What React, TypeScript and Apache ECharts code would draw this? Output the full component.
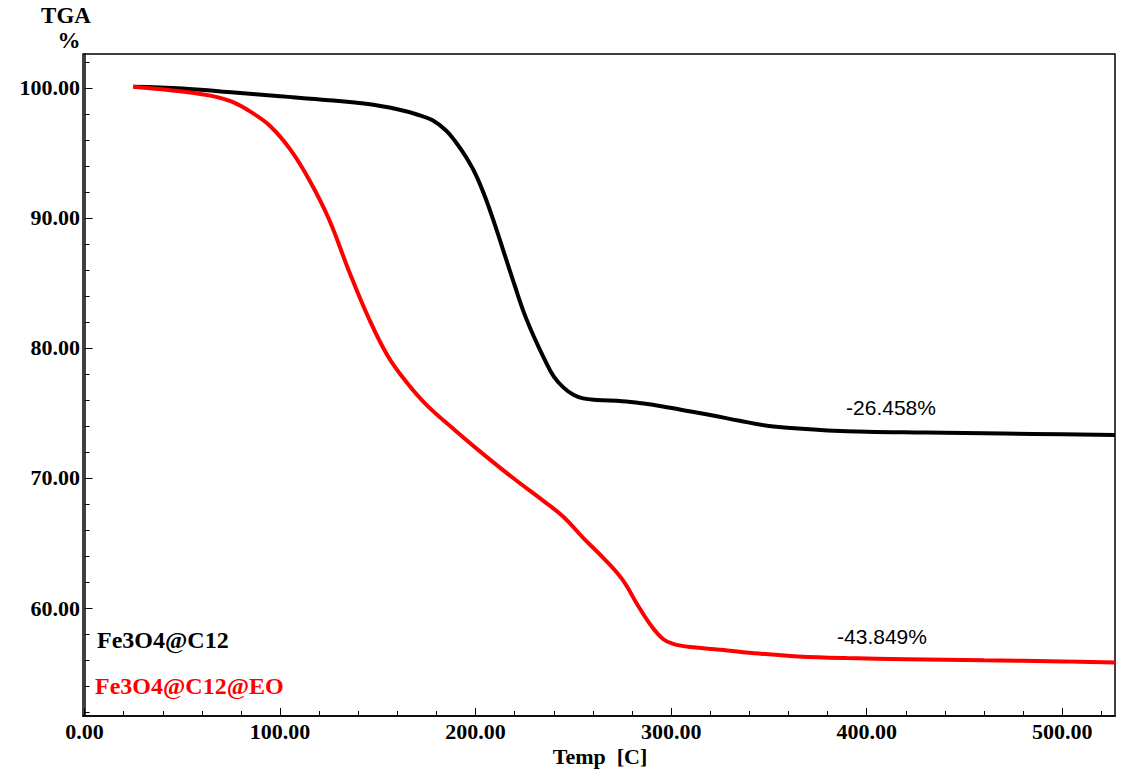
import React, { useEffect, useRef } from "react";
import * as echarts from "echarts";

const c12Temp = [25, 50, 75, 100, 125, 145, 160, 170, 178, 185, 190, 195, 200, 205, 210, 215, 220, 225, 230, 235, 240, 245, 250, 255, 262, 275, 285, 295, 305, 320, 335, 350, 365, 380, 400, 430, 470, 500, 527];
const c12Weight = [100.08, 99.95, 99.65, 99.35, 99.05, 98.75, 98.35, 97.95, 97.5, 96.7, 95.8, 94.7, 93.35, 91.55, 89.4, 87.1, 84.8, 82.6, 80.8, 79.2, 77.8, 76.95, 76.4, 76.12, 76.0, 75.9, 75.74, 75.52, 75.25, 74.85, 74.4, 74.0, 73.8, 73.66, 73.56, 73.5, 73.42, 73.36, 73.3];

const eoTemp = [25, 35, 45, 55, 65, 75, 85, 95, 105, 115, 125, 135, 145, 155, 165, 175, 190, 205, 220, 235, 245, 255, 265, 275, 283, 290, 296, 301, 310, 325, 345, 365, 390, 420, 460, 500, 527];
const eoWeight = [100.08, 99.95, 99.8, 99.62, 99.38, 98.95, 98.15, 97.05, 95.3, 92.9, 89.9, 86.0, 82.4, 79.4, 77.3, 75.6, 73.6, 71.7, 69.9, 68.2, 67.0, 65.4, 63.9, 62.2, 60.2, 58.6, 57.6, 57.25, 57.0, 56.8, 56.5, 56.28, 56.15, 56.07, 55.98, 55.9, 55.82];

const xMajor = [0, 100, 200, 300, 400, 500];
const xMinor = [20, 40, 60, 80, 120, 140, 160, 180, 220, 240, 260, 280, 320, 340, 360, 380, 420, 440, 460, 480, 520];
const yMajor = [60, 70, 80, 90, 100];
const yMinor = [52, 54, 56, 58, 62, 64, 66, 68, 72, 74, 76, 78, 82, 84, 86, 88, 92, 94, 96, 98, 102];

const seriesNames = ["Fe3O4@C12", "Fe3O4@C12@EO"];
const lossLabels = ["-26.458%", "-43.849%"];

const X_MIN = -0.8;
const X_MAX = 527;
const Y_MIN = 51.7;
const Y_MAX = 102.6;

const SERIF = '"Liberation Serif", "Times New Roman", serif';
const SANS = '"Liberation Sans", Arial, sans-serif';

export default function App() {
  const ref = useRef<HTMLDivElement>(null);
  useEffect(() => {
    if (!ref.current) return;
    const chart = echarts.init(ref.current, null, { renderer: "svg" });
    const pairs = (t: number[], w: number[]) => t.map((v, i) => [v, w[i]]);
    const labelStyle = { color: "#000", fontFamily: SERIF, fontWeight: "bold" as const, fontSize: 22 };
    chart.setOption({
      animation: false,
      backgroundColor: "#fff",
      grid: { left: 83, right: 9, top: 54, bottom: 56, show: true, borderColor: "#000", borderWidth: 1.5, backgroundColor: "transparent" },
      xAxis: [
        {
          type: "value", min: X_MIN, max: X_MAX,
          axisLine: { show: true, lineStyle: { color: "#000", width: 1.5 } },
          axisTick: { show: true, inside: true, length: 8, customValues: xMajor, lineStyle: { color: "#000" } },
          axisLabel: { show: true, customValues: xMajor, margin: 4, formatter: (v: number) => v.toFixed(2), ...labelStyle },
          splitLine: { show: false },
        },
        {
          type: "value", min: X_MIN, max: X_MAX, position: "bottom",
          axisLine: { show: false },
          axisTick: { show: true, inside: true, length: 5, customValues: xMinor, lineStyle: { color: "#000" } },
          axisLabel: { show: false },
          splitLine: { show: false },
        },
      ],
      yAxis: [
        {
          type: "value", min: Y_MIN, max: Y_MAX,
          axisLine: { show: true, lineStyle: { color: "#000", width: 1.5 } },
          axisTick: { show: true, inside: true, length: 8, customValues: yMajor, lineStyle: { color: "#000" } },
          axisLabel: { show: true, customValues: yMajor, margin: 3, formatter: (v: number) => v.toFixed(2), ...labelStyle },
          splitLine: { show: false },
        },
        {
          type: "value", min: Y_MIN, max: Y_MAX, position: "left",
          axisLine: { show: false },
          axisTick: { show: true, inside: true, length: 5, customValues: yMinor, lineStyle: { color: "#000" } },
          axisLabel: { show: false },
          splitLine: { show: false },
        },
      ],
      series: [
        {
          name: seriesNames[0], type: "line", data: pairs(c12Temp, c12Weight), showSymbol: false, smooth: 0.4,
          lineStyle: { color: "#000", width: 4 }, itemStyle: { color: "#000" },
        },
        {
          name: seriesNames[1], type: "line", data: pairs(eoTemp, eoWeight), showSymbol: false, smooth: 0.4,
          lineStyle: { color: "#ff0000", width: 4 }, itemStyle: { color: "#ff0000" },
        },
      ],
      graphic: [
        { type: "text", x: 66, y: 15, style: { text: "TGA", fill: "#000", font: `bold 23px ${SERIF}`, align: "center", verticalAlign: "middle" } },
        { type: "text", x: 69, y: 40, style: { text: "%", fill: "#000", font: `bold 23px ${SERIF}`, align: "center", verticalAlign: "middle" } },
        { type: "text", x: 600, y: 756, style: { text: "Temp  [C]", fill: "#000", font: `bold 22px ${SERIF}`, align: "center", verticalAlign: "middle" } },
        { type: "text", x: 97, y: 640, style: { text: seriesNames[0], fill: "#000", font: `bold 24px ${SERIF}`, align: "left", verticalAlign: "middle" } },
        { type: "text", x: 95, y: 686, style: { text: seriesNames[1], fill: "#ff0000", font: `bold 24px ${SERIF}`, align: "left", verticalAlign: "middle" } },
        { type: "text", x: 891, y: 407, style: { text: lossLabels[0], fill: "#000", font: `21px ${SANS}`, align: "center", verticalAlign: "middle" } },
        { type: "text", x: 882, y: 636, style: { text: lossLabels[1], fill: "#000", font: `21px ${SANS}`, align: "center", verticalAlign: "middle" } },
      ],
    });
    return () => chart.dispose();
  }, []);
  return <div ref={ref} style={{ position: "absolute", left: 0, top: 0, width: 1124, height: 772 }} />;
}
